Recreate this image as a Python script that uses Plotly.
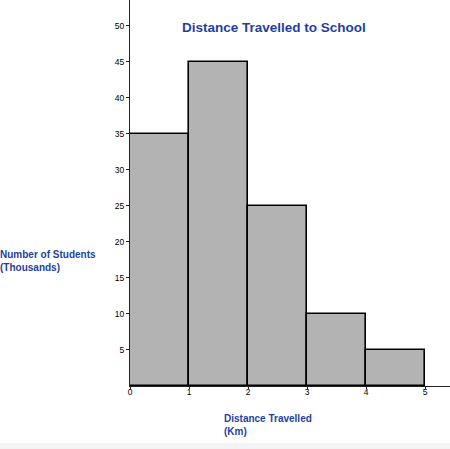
import plotly.graph_objects as go

# histogram data
bin_edges = [0, 1, 2, 3, 4, 5]
students = [35, 45, 25, 10, 5]
y_ticks = [5, 10, 15, 20, 25, 30, 35, 40, 45, 50]
x_ticks = [0, 1, 2, 3, 4, 5]

centers = [(a + b) / 2 for a, b in zip(bin_edges[:-1], bin_edges[1:])]
widths = [b - a for a, b in zip(bin_edges[:-1], bin_edges[1:])]

blue = "#1f3f9f"
font = "Liberation Sans, Arial, sans-serif"

fig = go.Figure()
fig.add_trace(go.Bar(x=centers, y=students, width=widths,
                     marker=dict(color="#b3b3b3", line=dict(color="#000000", width=1.6)),
                     showlegend=False, hoverinfo="skip"))

fig.update_layout(
    width=450, height=449,
    margin=dict(l=130, r=0, t=0, b=63),
    paper_bgcolor="white", plot_bgcolor="white",
    font=dict(family=font, size=8.5, color="#000000"),
    bargap=0,
    annotations=[
        dict(text="<b>Distance Travelled to School</b>", x=0.45, y=0.93,
             xref="paper", yref="paper", xanchor="center", yanchor="middle", showarrow=False,
             font=dict(size=13.5, color=blue)),
        dict(text="<b>Number of Students<br>(Thousands)</b>", x=-0.412, y=0.324,
             xref="paper", yref="paper", xanchor="left", yanchor="middle", align="left",
             showarrow=False, font=dict(size=10, color=blue)),
        dict(text="<b>Distance Travelled<br>(Km)</b>", x=0.2875, y=-0.10,
             xref="paper", yref="paper", xanchor="left", yanchor="middle", align="left",
             showarrow=False, font=dict(size=10, color=blue)),
    ],
    shapes=[
        # light strip at the bottom of the screenshot
        dict(type="rect", xref="paper", yref="paper", x0=-0.41, x1=1.0, y0=-0.1632, y1=-0.1477,
             fillcolor="#f3f3f3", line=dict(width=0), layer="below"),
    ],
)

fig.update_xaxes(range=[0, 5.42], tickvals=x_ticks, showline=True, linecolor="#222222",
                 linewidth=1, ticks="outside", ticklen=2, tickcolor="#222222",
                 ticklabelstandoff=-4,
                 showgrid=False, zeroline=False, fixedrange=True)
fig.update_yaxes(range=[0, 53.6], tickvals=y_ticks, showline=True, linecolor="#222222",
                 linewidth=1, ticks="outside", ticklen=3, tickcolor="#222222",
                 showgrid=False, zeroline=False, fixedrange=True)

# page body has a default margin; drop it so the figure sits at the corner
fig.write_html("out.html", config={"displayModeBar": False},
               post_script="document.body.style.margin='0px';")
